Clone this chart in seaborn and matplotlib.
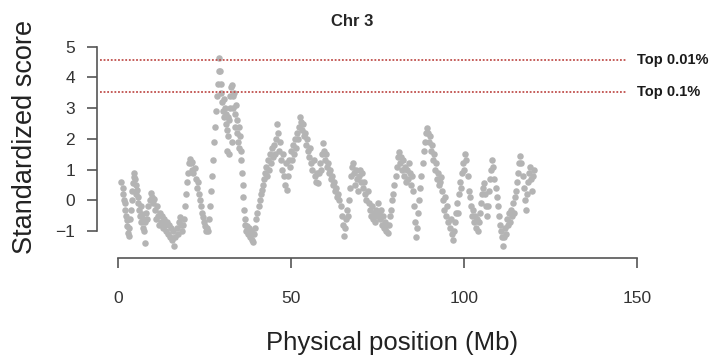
import matplotlib
matplotlib.use("Agg")
import matplotlib.pyplot as plt
import pandas as pd
import seaborn as sns

# positions (Mb) and standardized scores
positions = [
    1.0, 1.3, 1.5, 1.7, 1.9, 2.1, 2.3, 2.5, 2.7, 2.9, 3.1, 3.3, 3.5, 3.7, 3.9, 4.1, 4.3, 4.5, 4.7, 4.9,
    5.1, 5.3, 5.5, 5.7, 5.9, 6.1, 6.3, 6.5, 6.7, 6.9, 7.1, 7.3, 7.5, 7.8,
    7.9, 8.2, 8.5, 8.8, 9.1, 9.4, 9.7, 10.0, 10.3, 10.6, 10.9, 11.2, 11.5, 11.8, 12.1, 12.4, 12.7, 13.0,
    13.3, 13.6, 13.9, 14.2, 14.5, 14.8, 15.1, 15.4, 15.7, 16.0, 16.3, 16.6, 16.9, 17.2, 17.5, 17.8, 18.1,
    18.4, 18.7,
    19.0, 19.3, 19.6, 19.9, 20.2, 20.5, 20.8, 21.1, 21.3, 21.5, 21.8, 22.1, 22.4, 22.7, 23.0, 23.3, 23.6,
    23.9, 24.2, 24.5, 24.8, 25.1, 25.4, 25.7, 26.0,
    26.3, 26.6, 26.9, 27.2, 27.5, 27.8, 28.1, 28.4, 28.7, 28.9, 29.1, 29.3,
    29.5, 29.7, 29.9, 30.1, 30.3, 30.5, 30.7, 30.9, 31.1, 31.3, 31.5, 31.6, 31.7, 31.9, 32.1, 32.2, 32.3,
    32.5, 32.7, 32.8, 32.9, 33.1, 33.3, 33.5, 33.7, 33.9, 34.1, 34.3, 34.5, 34.7, 34.9, 35.1, 35.3, 35.5,
    35.6, 35.8, 36.0, 36.2, 36.4, 36.6, 36.8, 37.0, 37.3, 37.6, 37.9, 38.2, 38.5, 38.8, 39.1, 39.4, 39.7,
    40.0, 40.3, 40.6, 40.9, 41.2, 41.5, 41.8, 42.1, 42.4, 42.7,
    43.0, 43.3, 43.6, 43.9, 44.2, 44.5, 44.8, 45.1, 45.4, 45.7, 46.0, 46.2, 46.4, 46.7, 47.0, 47.3, 47.6,
    47.9, 48.2, 48.5, 48.8, 49.1, 49.4, 49.7, 50.0, 50.3, 50.6, 50.9, 51.2, 51.5, 51.8, 52.1, 52.4, 52.7,
    52.9,
    53.2, 53.5, 53.8, 54.1, 54.4, 54.7, 55.0, 55.3, 55.6, 55.9, 56.2, 56.5, 56.8, 57.1, 57.4, 57.7, 58.0,
    58.3, 58.6, 58.9, 59.2, 59.5, 59.8, 60.1, 60.4, 60.7, 61.0, 61.3, 61.6, 61.9, 62.2, 62.5, 62.8, 63.1,
    63.4, 63.7, 64.0,
    64.3, 64.6, 64.9, 65.2, 65.5, 65.8, 66.1, 66.4, 66.7, 67.0, 67.3, 67.6, 67.9, 68.2, 68.5, 68.8, 69.1,
    69.4, 69.7, 70.0, 70.3, 70.6, 70.9, 71.2, 71.5, 71.8, 72.1, 72.4,
    72.7, 73.0, 73.3, 73.6, 73.9, 74.2, 74.5, 74.8, 75.1, 75.4, 75.7, 76.0, 76.3, 76.6, 76.9, 77.2, 77.5,
    77.8, 78.1,
    78.4, 78.7, 79.0, 79.3, 79.6, 79.9, 80.2, 80.5, 80.8, 81.1, 81.4, 81.7, 82.0, 82.3, 82.6, 82.9, 83.2,
    83.5, 83.8, 84.1, 84.4, 84.7, 85.0,
    85.3, 85.6, 85.9, 86.2, 86.5, 86.8, 87.1, 87.4, 87.7, 88.0, 88.3, 88.6, 88.9, 89.2, 89.5, 89.8, 90.1,
    90.4, 90.7, 91.0, 91.3, 91.6, 91.9, 92.2, 92.5, 92.8, 93.1, 93.4, 93.7, 94.0, 94.3, 94.6, 94.9, 95.2,
    95.5, 95.8, 96.1, 96.4, 96.8, 97.1, 97.4,
    97.7, 98.0, 98.3, 98.6, 98.9, 99.2, 99.5, 99.8, 100.1, 100.4, 100.7, 101.0, 101.3, 101.6, 101.9,
    102.2, 102.5, 102.8, 103.1, 103.4, 103.7, 104.0, 104.3,
    104.6, 104.9, 105.2, 105.5, 105.8, 106.1, 106.4, 106.7, 107.0, 107.3, 107.6, 107.9, 108.2, 108.5,
    108.8, 109.1, 109.4, 109.7, 110.0, 110.3, 110.6, 110.9, 111.2, 111.5, 111.8, 112.1, 112.4, 112.7,
    113.0, 113.3, 113.6, 113.9, 114.2, 114.5, 114.8, 115.1, 115.4, 115.7, 116.0, 116.3, 116.6, 116.9,
    117.2, 117.5, 117.8, 118.1, 118.4, 118.7, 119.0, 119.3, 119.6, 119.9, 120.1,
]
scores = [
    0.6, 0.4, 0.2, 0.0, -0.1, -0.3, -0.5, -0.65, -0.85, -1.05, -1.15, -0.9, -0.6, -0.3, 0.0, 0.3, 0.55,
    0.75, 0.9, 0.7, 0.5, 0.2, 0.35, -0.1, 0.1, -0.3, -0.5, -0.2, -0.7, -0.45, -0.9, -0.6, -1.0, -1.4,
    -0.7, -0.4, -0.6, -0.2, 0.0, 0.25, 0.1, -0.1, 0.05, -0.3, -0.6, -0.2, -0.5, -0.8, -0.4, -0.7, -0.5,
    -0.9, -0.6, -0.8, -1.0, -0.7, -1.1, -0.8, -1.2, -0.9, -1.3, -1.0, -1.5, -1.2, -0.9, -1.1, -0.7, -0.55,
    -0.8, -1.0, -0.8,
    -0.6, -0.2, 0.2, 0.6, 0.9, 1.2, 1.35, 1.2, 1.0, 1.25, 0.9, 1.05, 0.7, 0.4, 0.6, 0.2, 0.0, -0.2, -0.4,
    -0.55, -0.7, -0.85, -1.0, -0.9, -1.0,
    -0.6, -0.2, 0.3, 0.8, 1.3, 1.9, 2.4, 2.9, 3.4, 3.8, 4.2, 4.65,
    4.2, 3.8, 3.5, 3.2, 2.9, 3.3, 2.7, 3.0, 2.5, 2.8, 2.3, 1.6, 2.7, 2.1, 2.6, 1.5, 3.0, 3.4, 3.7, 1.9,
    3.75, 3.4, 3.0, 3.5, 2.8, 2.4, 3.1, 2.2, 2.6, 1.9, 2.4, 1.7, 2.1, 1.6,
    1.3, 0.9, 0.5, 0.1, -0.3, -0.6, -0.8, -1.0, -0.85, -1.1, -0.9, -1.2, -1.0, -1.3, -1.37, -1.1, -0.9,
    -0.6, -0.4, -0.2, 0.0, 0.2, 0.35, 0.5, 0.7, 0.9, 1.1,
    0.8, 1.3, 1.0, 1.5, 1.2, 1.7, 1.4, 1.8, 1.5, 2.0, 2.5, 2.2, 1.6, 1.9, 1.3, 1.0, 1.5, 0.8, 0.5, 1.2,
    0.35, 0.8, 1.3, 1.1, 1.6, 1.3, 1.8, 1.5, 2.0, 1.7, 2.2, 2.0, 2.4, 2.7, 2.55,
    2.3, 2.5, 2.1, 2.2, 1.8, 2.0, 1.6, 1.4, 1.7, 1.2, 1.0, 1.3, 0.8, 0.6, 0.9, 0.55, 0.9, 1.2, 1.0, 1.5,
    1.85, 1.6, 1.3, 1.5, 1.1, 1.2, 0.9, 1.0, 0.7, 0.8, 0.5, 0.6, 0.3, 0.4, 0.1, 0.2, 0.0,
    -0.2, -0.5, -0.8, -1.15, -0.9, -0.6, -0.3, -0.5, 0.0, 0.4, 0.8, 1.1, 1.2, 0.9, 0.5, 1.0, 0.7, 0.3,
    0.8, 1.0, 0.6, 0.9, 0.4, 0.6, 0.2, 0.0, 0.3, -0.1,
    -0.3, -0.5, -0.2, -0.6, -0.4, -0.7, -0.3, -0.5, -0.1, -0.4, -0.6, -0.3, -0.8, -0.5, -0.9, -0.7, -1.0,
    -0.8, -1.07,
    -0.8, -0.5, -0.3, 0.0, 0.2, 0.5, 0.8, 1.1, 1.4, 1.56, 1.2, 1.4, 1.0, 1.3, 0.8, 1.1, 0.6, 1.0, 0.7,
    1.2, 0.9, 0.5, 0.8,
    0.3, -0.2, -0.7, -1.2, -0.9, -0.4, 0.0, 0.4, 0.8, 1.2, 1.6, 1.9, 2.2, 2.35, 2.2, 1.9, 2.1, 1.6, 1.8,
    1.3, 1.5, 1.0, 1.2, 0.7, 0.9, 0.5, 0.6, 0.75, 0.3, 0.0, -0.3, 0.1, -0.5, -0.2, -0.7, -0.9, -0.6,
    -1.1, -1.3, -1.0, -0.7,
    -0.4, -0.1, -0.4, 0.2, 0.6, 0.4, 0.9, 1.2, 1.0, 1.5, 1.3, 0.8, 0.3, 0.1, -0.2, -0.5, -0.3, -0.7,
    -0.5, -0.9, -0.6, -1.0, -0.7,
    -0.4, -0.1, 0.2, 0.4, 0.55, 0.2, -0.2, -0.5, -0.2, 0.3, 0.7, 1.0, 1.3, 1.1, 0.7, 0.4, 0.1, -0.2,
    -0.5, -0.8, -1.0, -1.2, -1.5, -1.2, -0.9, -1.1, -0.6, -0.8, -0.4, -0.7, -0.3, -0.5, -0.1, -0.4,
    0.1, 0.3, 0.6, 0.9, 1.2, 1.45, 1.2, 0.8, 0.4, 0.0, -0.3, 0.2, 0.6, 0.9, 1.1, 0.7, 0.3, 0.8, 1.0,
]

x_ticks = [0, 50, 100, 150]
y_ticks = [-1, 0, 1, 2, 3, 4, 5]
thresholds = [4.57, 3.52]
threshold_labels = ["Top 0.01%", "Top 0.1%"]
chrom_title = "Chr 3"

sns.set_style("ticks")
plt.rcParams["font.family"] = ["Liberation Sans", "DejaVu Sans"]

df = pd.DataFrame({"pos": positions, "score": scores})

fig = plt.figure(figsize=(7.1, 3.55), dpi=100)
ax = fig.add_axes([0.137, 0.2732, 0.7895, 0.621])

sns.scatterplot(data=df, x="pos", y="score", ax=ax, color="#b4b4b4", s=22,
                linewidth=0, alpha=1, legend=False)

for t, lab in zip(thresholds, threshold_labels):
    ax.plot([-5.2, 147.1], [t, t], color="#c0504d", linestyle=(0, (1, 1)), linewidth=1.3)
    ax.text(150, t, lab, fontsize=10.5, fontweight="bold", va="center", ha="left",
            color="#1a1a1a", clip_on=False)

ax.set_xlim(-6, 156)
ax.set_ylim(-1.88, 5.3)
ax.set_xticks(x_ticks)
ax.set_yticks(y_ticks)
ax.set_xlabel("")
ax.set_ylabel("")

for side in ["top", "right"]:
    ax.spines[side].set_visible(False)
ax.spines["left"].set_bounds(-1, 5)
ax.spines["bottom"].set_bounds(0, 150)
for side in ["left", "bottom"]:
    ax.spines[side].set_color("#555555")
    ax.spines[side].set_linewidth(1.2)
ax.tick_params(axis="both", length=7, width=1.2, color="#555555", labelcolor="#333333", labelsize=12.5)
ax.tick_params(axis="y", pad=9)
ax.tick_params(axis="x", pad=17)

fig.text(352 / 710, 1 - 22 / 355, chrom_title, fontsize=12, fontweight="bold", ha="center", va="center")
fig.text(25 / 710, 1 - 137 / 355, "Standardized score", fontsize=19.5, rotation=90,
         ha="center", va="center", color="#222222")
fig.text(392 / 710, 1 - 343 / 355, "Physical position (Mb)", fontsize=18.5,
         ha="center", va="center", color="#222222")

fig.savefig("out.png", dpi=100)
